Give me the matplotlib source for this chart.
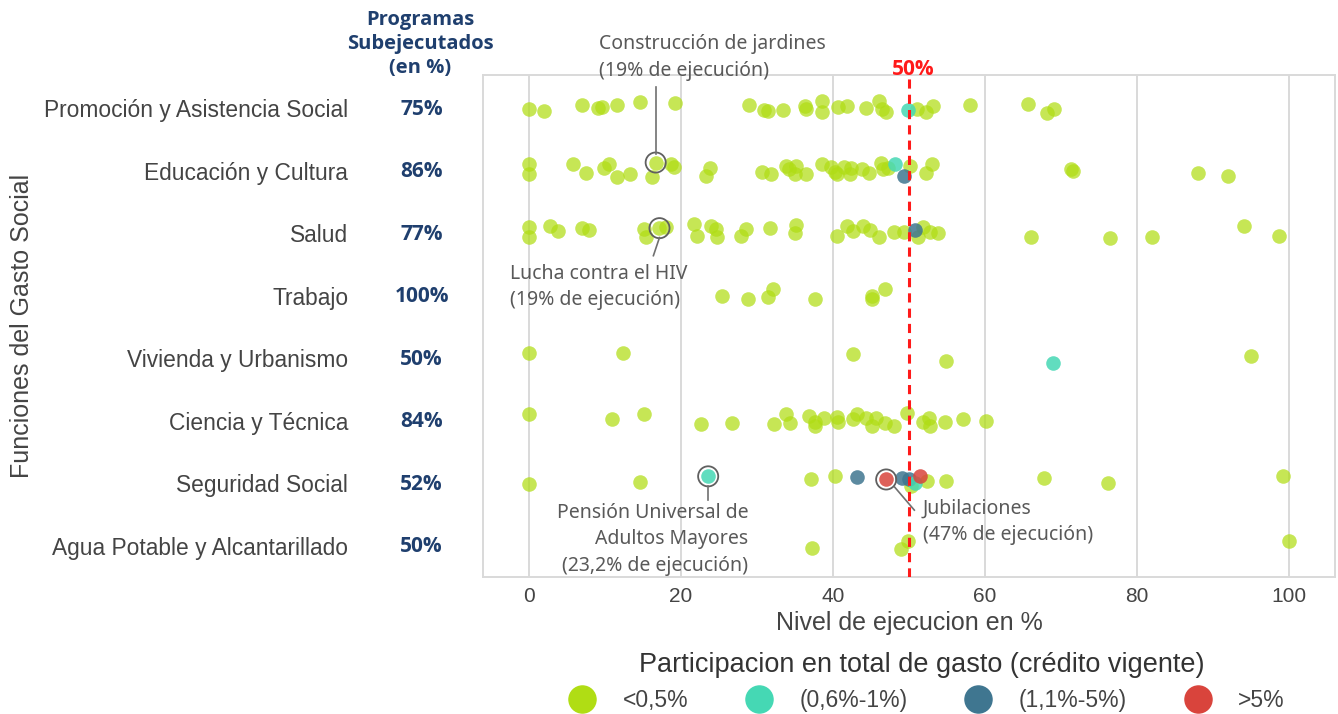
import matplotlib.pyplot as plt
from matplotlib.lines import Line2D

plt.rcParams['font.family'] = ['Liberation Sans', 'DejaVu Sans']

categories = ["Promoción y Asistencia Social", "Educación y Cultura", "Salud", "Trabajo",
              "Vivienda y Urbanismo", "Ciencia y Técnica", "Seguridad Social",
              "Agua Potable y Alcantarillado"]
subejecutados = ["75%", "86%", "77%", "100%", "50%", "84%", "52%", "50%"]

# nivel de ejecucion (%) of programs with share <0,5%, and vertical jitter (row units)
exec_promocion = [0, 2.0, 7.0, 9.1, 9.6, 11.6, 14.7, 19.3, 29.0, 30.9, 31.5, 33.5, 36.3, 36.5,
                  38.6, 38.6, 40.7, 41.8, 44.4, 46.1, 46.4, 47.0, 51.0, 52.3, 53.2, 58.0,
                  65.6, 68.1, 69.1]
jit_promocion = [0.02, 0.05, -0.05, 0, -0.02, -0.05, -0.1, -0.08, -0.05, 0.03, 0.05, 0.03,
                 -0.03, 0.02, -0.11, 0.06, -0.02, -0.03, 0, -0.11, 0.02, 0.06, 0.02, 0.06,
                 -0.03, -0.05, -0.06, 0.08, 0.02]
exec_educacion = [0, 0, 5.8, 7.6, 9.9, 10.5, 11.6, 13.3, 16.2, 16.7, 18.7, 19.1, 23.3, 23.8,
                  30.7, 31.8, 33.8, 34.2, 35.0, 35.1, 36.4, 38.5, 39.7, 40.3, 40.5, 41.4,
                  42.2, 42.4, 43.8, 44.7, 46.3, 46.6, 47.3, 50.1, 52.3, 53.0, 71.3, 71.6,
                  88.0, 92.0]
jit_educacion = [-0.1, 0.06, -0.11, 0.03, -0.05, -0.11, 0.1, 0.05, 0.1, -0.13, -0.1, -0.06,
                 0.08, -0.05, 0.02, 0.06, -0.08, -0.02, 0.06, -0.08, 0.06, -0.11, -0.06,
                 0.02, 0.06, -0.06, 0.06, -0.05, -0.02, 0.03, -0.13, -0.02, -0.05, -0.08,
                 0.03, -0.1, -0.03, 0.0, 0.03, 0.08]
exec_salud = [0, 0, 2.8, 3.9, 7.0, 7.9, 15.2, 15.4, 17.2, 18.1, 21.7, 22.1, 24.0, 24.6, 24.7,
              27.9, 28.6, 31.7, 35.1, 35.0, 40.6, 41.8, 42.6, 44.0, 44.9, 46.0, 48.0, 49.3,
              51.2, 51.9, 52.8, 53.8, 66.1, 76.4, 81.9, 94.1, 98.6]
jit_salud = [-0.1, 0.06, -0.11, -0.03, -0.08, -0.05, -0.06, 0.06, -0.08, -0.1, -0.14, 0.05,
             -0.11, -0.06, 0.06, 0.05, -0.06, -0.08, -0.13, 0, 0.05, -0.11, -0.03, -0.11,
             -0.05, 0.06, -0.02, -0.02, 0.06, -0.1, -0.02, 0, 0.06, 0.08, 0.06, -0.11, 0.05]
exec_trabajo = [25.4, 28.8, 31.5, 32.1, 37.7, 45.1, 45.2, 46.9]
jit_trabajo = [0, 0.05, 0.02, -0.11, 0.06, 0.06, 0, -0.1]
exec_vivienda = [0, 12.4, 42.7, 54.9, 95.0]
jit_vivienda = [-0.08, -0.08, -0.06, 0.05, -0.03]
exec_ciencia = [0, 11.0, 15.2, 22.7, 26.7, 32.2, 33.8, 34.3, 36.8, 37.7, 37.6, 38.8, 40.5,
                40.7, 42.6, 43.2, 44.3, 45.1, 45.7, 46.8, 48.0, 49.7, 51.8, 52.6, 52.8,
                54.7, 57.1, 60.1]
jit_ciencia = [-0.11, -0.03, -0.1, 0.05, 0.03, 0.05, -0.1, 0.03, -0.08, 0.02, 0.08, -0.05,
               -0.06, 0.02, -0.02, -0.1, -0.05, 0.08, -0.05, 0.03, 0.08, -0.13, 0.02, -0.05,
               0.08, 0.02, -0.03, 0]
exec_seguridad = [0, 14.6, 37.1, 40.3, 50.2, 52.4, 54.9, 67.7, 76.2, 99.2]
jit_seguridad = [0.02, -0.02, -0.06, -0.11, 0.05, -0.03, -0.03, -0.08, 0, -0.11]
exec_agua = [37.2, 48.9, 49.9, 99.9]
jit_agua = [0.03, 0.06, -0.08, -0.08]

# programs with larger share of total spending
big_row = [0, 1, 1, 2, 4, 6, 6, 6, 6, 6, 6, 6]
big_exec = [49.9, 48.1, 49.3, 50.8, 68.9, 23.6, 43.2, 47.0, 49.1, 50.0, 50.8, 51.5]
big_jit = [0.03, -0.1, 0.08, -0.05, 0.08, -0.11, -0.1, -0.06, -0.08, -0.06, 0.0, -0.11]
big_group = [1, 1, 2, 2, 1, 1, 2, 3, 2, 2, 1, 3]

group_labels = ["<0,5%", "(0,6%-1%)", "(1,1%-5%)", ">5%"]
group_colors = ["#b0dd14", "#45d8b4", "#3f7690", "#d9443c"]

small_exec = [exec_promocion, exec_educacion, exec_salud, exec_trabajo, exec_vivienda,
              exec_ciencia, exec_seguridad, exec_agua]
small_jit = [jit_promocion, jit_educacion, jit_salud, jit_trabajo, jit_vivienda,
             jit_ciencia, jit_seguridad, jit_agua]

fig = plt.figure(figsize=(13.38, 7.14), dpi=100)
ax = fig.add_axes([483 / 1338, 1 - 577 / 714, 852 / 1338, 502 / 714])

for i in range(len(categories)):
    ys = [i + d for d in small_jit[i]]
    ax.scatter(small_exec[i], ys, s=110, color=group_colors[0], alpha=0.72,
               linewidths=0, zorder=3)

for r, x, d, g in zip(big_row, big_exec, big_jit, big_group):
    ax.scatter([x], [r + d], s=110, color=group_colors[g], alpha=0.85, linewidths=0, zorder=4)

# highlighted programs
ring_x = [16.7, 17.2, 23.6, 47.0]
ring_y = [1 - 0.13, 2 - 0.08, 6 - 0.11, 6 - 0.06]
ax.scatter(ring_x, ring_y, s=210, facecolors="none", edgecolors="#606060", linewidths=1.3, zorder=5)

ax.axvline(50, color="#ff1a1a", linestyle=(0, (3, 2)), linewidth=2.2, zorder=6)
ax.text(50.5, -0.62, "50%", color="#ff1a1a", fontweight="bold", fontsize=15,
        ha="center", va="center", family=["Open Sans", "DejaVu Sans"])

ann = dict(color="#595959", fontsize=14, family=["Noto Sans", "DejaVu Sans"], linespacing=1.45)
gray = "#707070"
ax.plot([16.7, 16.7], [-0.34, 1 - 0.26], color=gray, lw=1.2, zorder=5)
ax.text(9.2, -0.81, "Construcción de jardines\n(19% de ejecución)", ha="left", va="center", **ann)
ax.plot([17.2, 16.4], [2 + 0.07, 2 + 0.36], color=gray, lw=1.2, zorder=5)
ax.text(-2.4, 2.86, "Lucha contra el HIV\n(19% de ejecución)", ha="left", va="center", **ann)
ax.plot([23.6, 23.6], [6 + 0.04, 6 + 0.27], color=gray, lw=1.2, zorder=5)
ax.text(28.9, 6.9, "Pensión Universal de\nAdultos Mayores\n(23,2% de ejecución)",
        ha="right", va="center", multialignment="right", **ann)
ax.plot([48.1, 50.7], [6 + 0.06, 6 + 0.43], color=gray, lw=1.2, zorder=5)
ax.text(51.8, 6.62, "Jubilaciones\n(47% de ejecución)", ha="left", va="center", **ann)

ax.set_xlim(-6, 106)
ax.set_ylim(7.5, -0.53)
ax.set_xticks([0, 20, 40, 60, 80, 100])
ax.set_yticks(range(len(categories)))
ax.set_yticklabels(categories)
ax.grid(axis="x", color="#d9d9d9", linewidth=1.4, zorder=0)
ax.set_axisbelow(True)
for sp in ax.spines.values():
    sp.set_color("#d9d9d9")
    sp.set_linewidth(1.4)
ax.tick_params(axis="both", length=0, colors="#444444")
ax.tick_params(axis="y", pad=97, labelsize=16.4)
ax.tick_params(axis="x", pad=7, labelsize=15)

for i, p in enumerate(subejecutados):
    ax.text(-0.072, i + 0.02, p, transform=ax.get_yaxis_transform(), ha="center", va="center",
            color="#1f3f6e", fontweight="bold", fontsize=15, family=["Open Sans", "DejaVu Sans"])

fig.text(420 / 1338, 1 - 44 / 714, "Programas\nSubejecutados\n(en %)", ha="center", va="center",
         color="#1f3f6e", fontweight="bold", fontsize=14.5, linespacing=1.25,
         family=["Open Sans", "DejaVu Sans"])

ax.set_xlabel("Nivel de ejecucion en %", fontsize=18, color="#444444")
ax.xaxis.set_label_coords(0.5, -0.068)
ax.set_ylabel("Funciones del Gasto Social", fontsize=18, color="#444444")
ax.yaxis.set_label_coords(-0.527, 0.5)

handles = [Line2D([], [], marker="o", linestyle="", markersize=19.5, color=c) for c in group_colors]
leg = fig.legend(handles, group_labels, loc="center", bbox_to_anchor=(922 / 1338, 1 - 682 / 714),
                 ncol=4, frameon=False, fontsize=16.5,
                 title="Participacion en total de gasto (crédito vigente)", title_fontsize=19.5,
                 columnspacing=2.1, handlelength=2.0, handletextpad=0.75, borderpad=0)
for t in leg.get_texts():
    t.set_color("#444444")
leg.get_title().set_color("#333333")

fig.savefig("out.png", dpi=100)
